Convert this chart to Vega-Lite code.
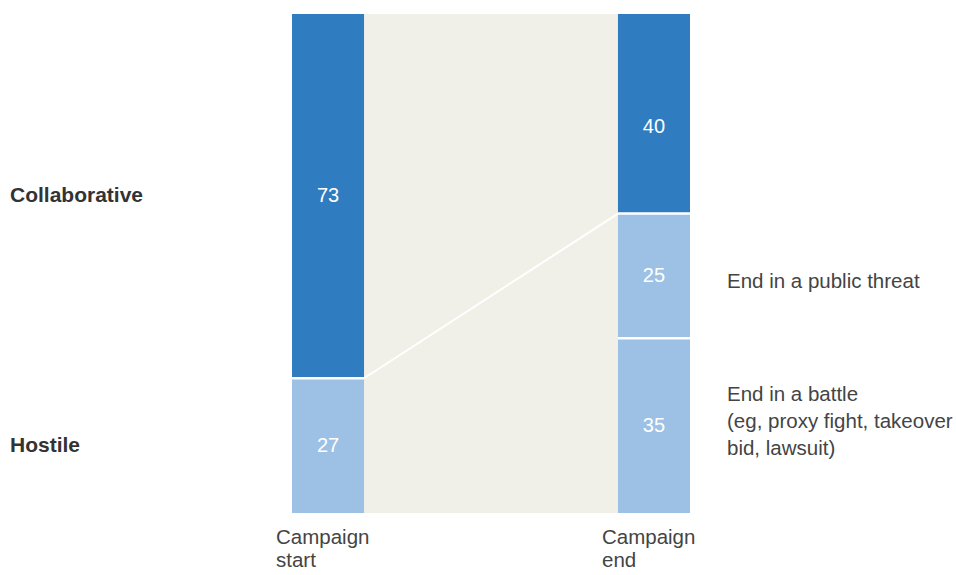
{
  "$schema": "https://vega.github.io/schema/vega-lite/v6.json",
  "width": 398,
  "height": 499,
  "autosize": {"type": "none"},
  "padding": {"left": 292, "top": 14, "right": 266, "bottom": 62},
  "background": "white",
  "config": {"view": {"fill": "#f1f0e8", "stroke": null}, "font": "Liberation Sans"},
  "data": {
    "values": [
      {"stage": "Campaign start", "category": "Collaborative", "rank": 3, "value": 73},
      {"stage": "Campaign start", "category": "Hostile", "rank": 1, "value": 27},
      {"stage": "Campaign end", "category": "Collaborative", "rank": 3, "value": 40},
      {"stage": "Campaign end", "category": "Public threat", "rank": 2, "value": 25, "note": "End in a public threat"},
      {"stage": "Campaign end", "category": "Battle", "rank": 1, "value": 35, "note": "End in a battle\n(eg, proxy fight, takeover\nbid, lawsuit)"}
    ]
  },
  "transform": [
    {"stack": "value", "groupby": ["stage"], "sort": [{"field": "rank", "order": "ascending"}], "as": ["y0", "y1"]},
    {"calculate": "(datum.y0 + datum.y1) / 2", "as": "mid"}
  ],
  "layer": [
    {
      "mark": {"type": "bar"},
      "encoding": {
        "x": {
          "field": "stage", "type": "nominal", "sort": ["Campaign start", "Campaign end"],
          "scale": {"domain": ["Campaign start", "Campaign end"], "paddingInner": 0.779, "paddingOuter": 0},
          "axis": {
            "title": null, "domain": false, "ticks": false, "labelAngle": 0,
            "labelExpr": "split(datum.label, ' ')", "labelFontSize": 20.5, "labelColor": "#444444",
            "labelLineHeight": 23, "labelPadding": 14, "labelAlign": "left", "labelOffset": -52, "labelFont": "Liberation Sans"
          }
        },
        "y": {"field": "y1", "type": "quantitative", "scale": {"domain": [0, 100], "nice": false, "zero": true}, "axis": null},
        "y2": {"field": "y0"},
        "color": {
          "field": "category", "type": "nominal",
          "scale": {"domain": ["Collaborative", "Hostile", "Public threat", "Battle"], "range": ["#2f7cc0", "#9cc1e4", "#9cc1e4", "#9cc1e4"]},
          "legend": null
        }
      }
    },
    {
      "transform": [{"filter": "datum.rank < 3"}],
      "mark": {"type": "rule", "stroke": "white", "strokeWidth": 2.5},
      "encoding": {
        "x": {"field": "stage", "type": "nominal", "sort": ["Campaign start", "Campaign end"], "bandPosition": 0},
        "x2": {"field": "stage", "bandPosition": 1},
        "y": {"field": "y1", "type": "quantitative"}
      }
    },
    {
      "transform": [
        {"filter": "datum.category === 'Collaborative'"},
        {"pivot": "stage", "value": "y0"}
      ],
      "mark": {"type": "rule", "stroke": "white", "strokeWidth": 2},
      "encoding": {
        "x": {"datum": "Campaign start", "type": "nominal", "bandPosition": 1},
        "x2": {"datum": "Campaign end", "bandPosition": 0},
        "y": {"field": "Campaign start", "type": "quantitative"},
        "y2": {"field": "Campaign end"}
      }
    },
    {
      "transform": [{"filter": "!(datum.stage === 'Campaign end' && datum.category === 'Collaborative')"}],
      "mark": {"type": "text", "color": "white", "fontSize": 20, "align": "center", "baseline": "middle"},
      "encoding": {
        "x": {"field": "stage", "type": "nominal", "sort": ["Campaign start", "Campaign end"]},
        "y": {"field": "mid", "type": "quantitative"},
        "text": {"field": "value", "type": "quantitative"}
      }
    },
    {
      "transform": [{"filter": "datum.stage === 'Campaign end' && datum.category === 'Collaborative'"}],
      "mark": {"type": "text", "color": "white", "fontSize": 20, "align": "center", "baseline": "middle", "dy": 13},
      "encoding": {
        "x": {"field": "stage", "type": "nominal", "sort": ["Campaign start", "Campaign end"]},
        "y": {"field": "mid", "type": "quantitative"},
        "text": {"field": "value", "type": "quantitative"}
      }
    },
    {
      "transform": [{"filter": "datum.stage === 'Campaign start'"}],
      "mark": {"type": "text", "color": "#333333", "fontSize": 21, "fontWeight": "bold", "align": "left", "baseline": "middle", "dx": -282},
      "encoding": {
        "x": {"field": "stage", "type": "nominal", "sort": ["Campaign start", "Campaign end"], "bandPosition": 0},
        "y": {"field": "mid", "type": "quantitative"},
        "text": {"field": "category", "type": "nominal"}
      }
    },
    {
      "transform": [{"filter": "datum.category === 'Public threat'"}],
      "mark": {"type": "text", "color": "#444444", "fontSize": 20.5, "align": "left", "baseline": "middle", "dx": 37, "dy": 6},
      "encoding": {
        "x": {"field": "stage", "type": "nominal", "sort": ["Campaign start", "Campaign end"], "bandPosition": 1},
        "y": {"field": "mid", "type": "quantitative"},
        "text": {"field": "note", "type": "nominal"}
      }
    },
    {
      "transform": [{"filter": "datum.category === 'Battle'"}],
      "mark": {"type": "text", "color": "#444444", "fontSize": 20.5, "align": "left", "baseline": "middle", "dx": 37, "dy": -31, "lineBreak": "\n", "lineHeight": 27},
      "encoding": {
        "x": {"field": "stage", "type": "nominal", "sort": ["Campaign start", "Campaign end"], "bandPosition": 1},
        "y": {"field": "mid", "type": "quantitative"},
        "text": {"field": "note", "type": "nominal"}
      }
    }
  ]
}
